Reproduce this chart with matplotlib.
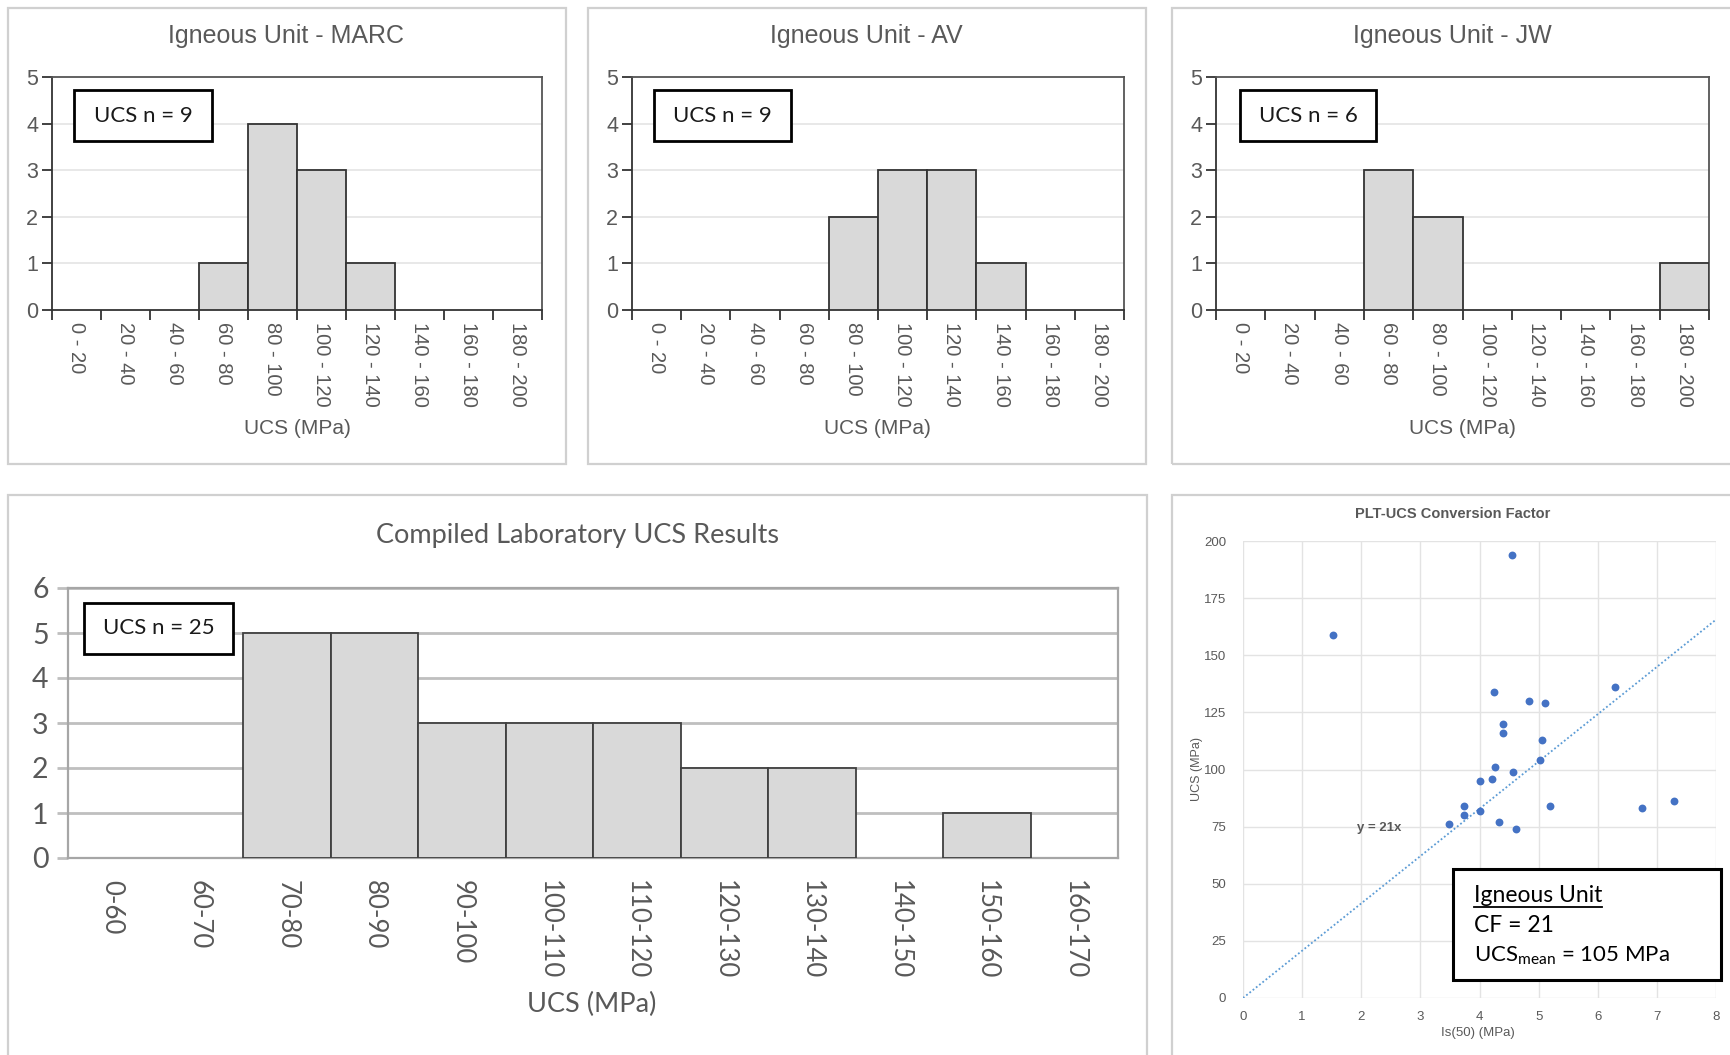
import numpy as np
import matplotlib
matplotlib.use("Agg")
import matplotlib.pyplot as plt
from matplotlib.patches import Rectangle
from matplotlib.lines import Line2D

plt.rcParams['font.family'] = ['Liberation Sans', 'DejaVu Sans']

# ---------------- data ----------------
top_bins = ["0 - 20", "20 - 40", "40 - 60", "60 - 80", "80 - 100",
            "100 - 120", "120 - 140", "140 - 160", "160 - 180", "180 - 200"]
marc_counts = [0, 0, 0, 1, 4, 3, 1, 0, 0, 0]
av_counts = [0, 0, 0, 0, 2, 3, 3, 1, 0, 0]
jw_counts = [0, 0, 0, 3, 2, 0, 0, 0, 0, 1]
top_titles = ["Igneous Unit - MARC", "Igneous Unit - AV", "Igneous Unit - JW"]
top_n_labels = ["UCS n = 9", "UCS n = 9", "UCS n = 6"]

all_bins = ["0-60", "60-70", "70-80", "80-90", "90-100", "100-110", "110-120",
            "120-130", "130-140", "140-150", "150-160", "160-170"]
all_counts = [0, 0, 5, 5, 3, 3, 3, 2, 2, 0, 1, 0]
all_title = "Compiled Laboratory UCS Results"
all_n_label = "UCS n = 25"

is50 = [1.52, 4.55, 4.24, 4.83, 5.10, 6.30, 4.39, 4.39, 5.06, 5.02, 4.27, 4.57,
        4.21, 4.01, 3.74, 5.20, 3.73, 4.00, 3.48, 4.33, 4.61, 6.74, 7.29]
ucs = [159, 194, 134, 130, 129, 136, 120, 116, 113, 104, 101, 99,
       96, 95, 84, 84, 80, 82, 76, 77, 74, 83, 86]
trend_slope = 20.7
trend_x = [0, 8]

# ---------------- layout helpers ----------------
W, H = 1730, 1055
fig = plt.figure(figsize=(W / 100, H / 100), dpi=100)
fig.patch.set_facecolor('white')


def rect(l, t, r, b):
    return [l / W, 1 - b / H, (r - l) / W, (b - t) / H]


def fx(px):
    return px / W


def fy(py):
    return 1 - py / H


def frame(l, t, r, b, color='#D0D0D0', lw=1.6):
    fig.patches.append(Rectangle((fx(l), fy(b)), (r - l) / W, (b - t) / H,
                                 transform=fig.transFigure, fill=False,
                                 edgecolor=color, lw=lw, zorder=0))


def box(l, t, r, b, lw=2.0):
    fig.patches.append(Rectangle((fx(l), fy(b)), (r - l) / W, (b - t) / H,
                                 transform=fig.transFigure, facecolor='white',
                                 edgecolor='black', lw=lw, zorder=5))


GRAY_TXT = '#595959'

# ---------------- top histograms ----------------
top_data = [marc_counts, av_counts, jw_counts]
top_axes_px = [(52, 77, 542, 310), (632, 77, 1124, 310), (1216, 77, 1709, 310)]
top_frames = [(8, 8, 566, 464), (588, 8, 1146, 464), (1172, 8, 1740, 464)]
top_boxes = [(74, 90, 212, 141), (654, 90, 791, 141), (1240, 90, 1376, 141)]
top_title_x = [286, 866, 1452]
top_xlabel_x = [297, 877, 1462]

for counts, title, nlab, apx, fpx, bpx, tx, lx in zip(top_data, top_titles, top_n_labels,
                                                      top_axes_px, top_frames, top_boxes,
                                                      top_title_x, top_xlabel_x):
    frame(*fpx)
    ax = fig.add_axes(rect(*apx))
    x = np.arange(len(top_bins))
    ec = ['#333333' if c > 0 else 'none' for c in counts]
    ax.bar(x, counts, width=1.0, color='#D9D9D9', edgecolor=ec, lw=1.3, zorder=3)
    ax.set_xlim(-0.5, len(top_bins) - 0.5)
    ax.set_ylim(0, 5)
    ax.set_yticks(range(6))
    ax.set_yticklabels([str(i) for i in range(6)])
    for yv in range(1, 5):
        ax.axhline(yv, color='#E6E6E6', lw=1.3, zorder=1)
    ax.set_xticks(np.arange(-0.5, len(top_bins)), labels=[''] * (len(top_bins) + 1))
    ax.set_xticks(x, labels=top_bins, minor=True)
    ax.tick_params(axis='x', which='major', length=7, width=1.3, color='#333333', direction='out')
    ax.tick_params(axis='x', which='minor', length=0, pad=9, labelsize=14.5,
                   labelcolor=GRAY_TXT, labelrotation=-90)
    ax.tick_params(axis='y', length=7, width=1.3, color='#333333', pad=3,
                   labelsize=15.5, labelcolor=GRAY_TXT)
    for lab in ax.get_xticklabels(minor=True):
        lab.set_va('top')
        lab.set_ha('center')
    for s in ['left', 'bottom']:
        ax.spines[s].set_color('#333333')
        ax.spines[s].set_linewidth(1.3)
    for s in ['top', 'right']:
        ax.spines[s].set_color('#555555')
        ax.spines[s].set_linewidth(1.3)
    fig.text(fx(tx), fy(36), title, ha='center', va='center', fontsize=18, color=GRAY_TXT)
    fig.text(fx(lx), fy(428), "UCS (MPa)", ha='center', va='center', fontsize=15, color=GRAY_TXT)
    box(*bpx)
    fig.text(fx((bpx[0] + bpx[2]) / 2), fy((bpx[1] + bpx[3]) / 2), nlab, ha='center', va='center',
             fontsize=16, family=['Lato', 'DejaVu Sans'], color='#1a1a1a', zorder=6)

# ---------------- compiled histogram ----------------
frame(8, 495, 1147, 1065)
axb = fig.add_axes(rect(68, 588, 1118, 858))
xb = np.arange(len(all_bins))
ecb = ['#404040' if c > 0 else 'none' for c in all_counts]
axb.bar(xb, all_counts, width=1.0, color='#D9D9D9', edgecolor=ecb, lw=1.3, zorder=3)
axb.set_xlim(-0.5, len(all_bins) - 0.5)
axb.set_ylim(0, 6)
axb.set_yticks(range(7))
for yv in range(1, 7):
    axb.axhline(yv, color='#BFBFBF', lw=2.0, zorder=1)
axb.set_xticks(xb, labels=all_bins)
axb.tick_params(axis='x', length=0, pad=16, labelsize=18.5, labelcolor=GRAY_TXT, labelrotation=-90)
for lab in axb.get_xticklabels():
    lab.set_family(['Lato', 'DejaVu Sans'])
    lab.set_va('top')
axb.tick_params(axis='y', length=8, width=2.0, color='#BFBFBF', pad=6, labelsize=20.5, labelcolor=GRAY_TXT)
for lab in axb.get_yticklabels():
    lab.set_family(['Lato', 'DejaVu Sans'])
for s in ['left', 'bottom', 'right', 'top']:
    axb.spines[s].set_color('#A6A6A6')
    axb.spines[s].set_linewidth(1.6)
fig.text(fx(577), fy(535), all_title, ha='center', va='center', fontsize=19.5,
         family=['Lato', 'DejaVu Sans'], color=GRAY_TXT)
fig.text(fx(592), fy(1004), "UCS (MPa)", ha='center', va='center', fontsize=19.5,
         family=['Lato', 'DejaVu Sans'], color=GRAY_TXT)
box(84, 603, 233, 654)
fig.text(fx(158.5), fy(628.5), all_n_label, ha='center', va='center', fontsize=16,
         family=['Lato', 'DejaVu Sans'], color='#1a1a1a', zorder=6)

# ---------------- scatter ----------------
frame(1172, 495, 1740, 1065)
axs = fig.add_axes(rect(1243, 541, 1716, 998))
axs.set_xlim(0, 8)
axs.set_ylim(0, 200)
axs.set_xticks(range(9))
axs.set_yticks(range(0, 201, 25))
axs.grid(True, color='#E3E3E3', lw=1.0, zorder=0)
axs.set_axisbelow(True)
for s in axs.spines.values():
    s.set_visible(False)
axs.tick_params(axis='both', length=0, labelsize=9.5, labelcolor=GRAY_TXT)
axs.tick_params(axis='y', pad=12)
axs.tick_params(axis='x', pad=9)
axs.plot(trend_x, [trend_slope * v for v in trend_x], ls=(0, (1, 1.3)), color='#5B9BD5',
         lw=1.3, zorder=2)
axs.scatter(is50, ucs, s=32, color='#4472C4', zorder=3, linewidths=0)
axs.text(2.3, 74.5, "y = 21x", ha='center', va='center', fontsize=9.5, fontweight='bold',
         color=GRAY_TXT)
fig.text(fx(1453), fy(514), "PLT-UCS Conversion Factor", ha='center', va='center',
         fontsize=10.5, fontweight='bold', color=GRAY_TXT)
fig.text(fx(1197), fy(769), "UCS (MPa)", ha='center', va='center', rotation=90,
         fontsize=9, color=GRAY_TXT)
fig.text(fx(1478), fy(1033), "Is(50) (MPa)", ha='center', va='center',
         fontsize=9.5, color=GRAY_TXT)

box(1453, 869, 1721, 980, lw=2.2)
lato = ['Lato', 'DejaVu Sans']
t1 = fig.text(fx(1474), fy(895), "Igneous Unit", ha='left', va='center', fontsize=16.5,
              family=lato, color='black', zorder=6)
fig.text(fx(1474), fy(925), "CF = 21", ha='left', va='center', fontsize=16.5,
         family=lato, color='black', zorder=6)
fig.text(fx(1474), fy(956), r"UCS$_{\mathregular{mean}}$ = 105 MPa", ha='left', va='center',
         fontsize=16, family=lato, color='black', zorder=6)

fig.canvas.draw()
bb = t1.get_window_extent(renderer=fig.canvas.get_renderer())
uy = bb.y0 - 1
fig.add_artist(Line2D([bb.x0 / W, bb.x1 / W], [uy / H, uy / H], transform=fig.transFigure,
                      color='black', lw=1.3, zorder=7))

fig.savefig("out.png", dpi=100, facecolor='white')
